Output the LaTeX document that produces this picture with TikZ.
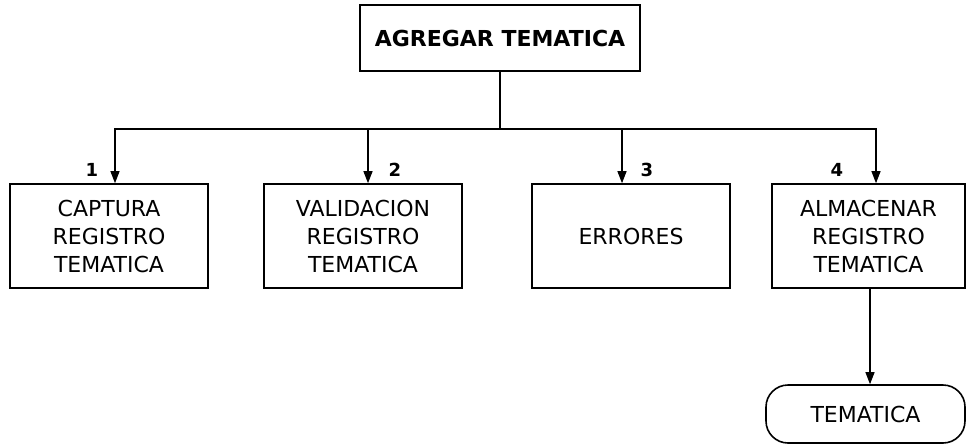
\documentclass[tikz,border=0pt]{standalone}
\usepackage{fontspec}
\setmainfont{DejaVu Sans}
\usetikzlibrary{arrows.meta}
\begin{document}
\begin{tikzpicture}[x=1pt,y=-1pt,
  box/.style={draw,line width=1.6pt,minimum width=198pt,minimum height=104pt,inner sep=0pt,align=center,font=\fontsize{22}{28}\selectfont},
  num/.style={font=\bfseries\fontsize{18}{20}\selectfont,inner sep=0pt},
  conn/.style={line width=1.1pt},
  arr/.style={conn,-{Triangle[length=12pt,width=9pt]}}]
\useasboundingbox (0,0) rectangle (966,445);
\node[draw,line width=1.6pt,minimum width=280pt,minimum height=66pt,inner sep=0pt,font=\bfseries\fontsize{22}{26}\selectfont] (top) at (500,38) {AGREGAR TEMATICA};
\node[box] (b1) at (109,236) {CAPTURA\\REGISTRO\\TEMATICA};
\node[box] (b2) at (363,236) {VALIDACION\\REGISTRO\\TEMATICA};
\node[box] (b3) at (631,236) {ERRORES};
\node[box,minimum width=193pt] (b4) at (868.5,236) {ALMACENAR\\REGISTRO\\TEMATICA};
\node[draw,line width=1.6pt,minimum width=199pt,minimum height=58pt,rounded corners=22pt,inner sep=0pt,font=\fontsize{22}{28}\selectfont] (t) at (865.5,414) {TEMATICA};
\coordinate (j) at (top.south |- 0,129);
\node[num] (n1) at (92,170) {1};
\node[num] (n2) at (395,170) {2};
\node[num] (n3) at (647,170) {3};
\node[num] (n4) at (837,170) {4};
\draw[conn] (top.south) -- (j);
\draw[arr] (j) -| ([xshift=6pt]b1.north);
\draw[arr] (j) -| ([xshift=5pt]b2.north);
\draw[arr] (j) -| ([xshift=-9pt]b3.north);
\draw[arr] (j) -| ([xshift=7.5pt]b4.north);
\draw[arr] ([xshift=1.5pt]b4.south) -- ([xshift=4.5pt]t.north);
\end{tikzpicture}
\end{document}
